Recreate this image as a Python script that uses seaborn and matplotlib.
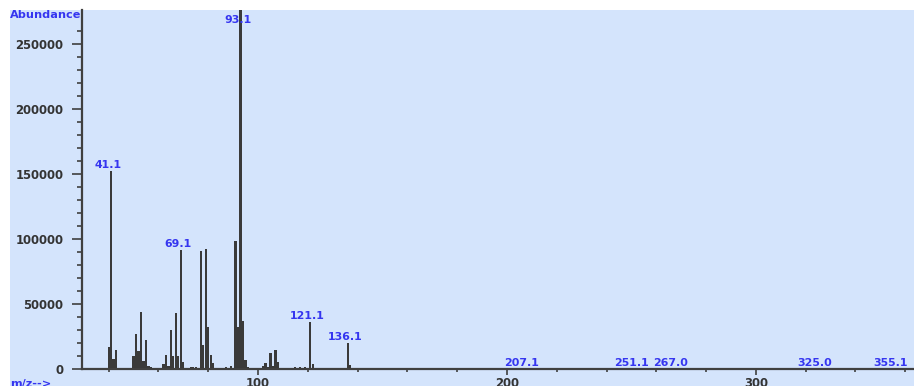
import matplotlib
matplotlib.use("Agg")
import matplotlib.pyplot as plt
from matplotlib.patches import Rectangle
from matplotlib.ticker import FixedLocator
import seaborn as sns
import pandas as pd

# ---- data ----
mz = [40, 41, 42, 43, 44, 45,
      50, 51, 52, 53, 54, 55, 56, 57, 58, 59, 61,
      62, 63, 64, 65, 66, 67, 68, 69, 70, 73, 74, 75,
      77, 78, 79, 80, 81, 82, 87, 89,
      91, 92, 93, 94, 95, 96,
      102, 103, 104, 105, 106, 107, 108,
      115, 117, 119, 121, 122, 136, 137,
      207, 251, 267, 325, 355]
abundance = [17000, 152500, 7700, 14400, 1000, 800,
             10000, 26900, 13800, 43800, 6400, 22600, 2300, 1200, 900, 700, 800,
             3600, 10500, 2300, 29700, 10000, 43000, 10000, 91500, 5600, 1200, 1500, 1500,
             90500, 18500, 92000, 32500, 10500, 4800, 1500, 2500,
             98400, 32000, 276000, 37200, 6900, 1200,
             2000, 4400, 1500, 12000, 2300, 14600, 5600,
             1500, 1500, 1200, 36400, 3600, 20200, 2800,
             200, 200, 200, 200, 200]

label_mz = [41.1, 69.1, 93.1, 121.1, 136.1, 207.1, 251.1, 267.0, 325.0, 355.1]
label_text = ["41.1", "69.1", "93.1", "121.1", "136.1", "207.1", "251.1", "267.0", "325.0", "355.1"]
label_peak = [152500, 91500, 276000, 36400, 20200, 200, 200, 200, 200, 200]

y_major = [0, 50000, 100000, 150000, 200000, 250000]
y_major_labels = ["0", "50000", "100000", "150000", "200000", "250000"]
x_major = [100, 200, 300]
x_major_labels = ["100", "200", "300"]

BG = "#d4e4fc"
BAR = "#3a3a3a"
BLUE = "#3535f0"
TICK = "#333333"

W, H = 914, 388
fig = plt.figure(figsize=(W / 100, H / 100), dpi=100)
fig.patch.set_facecolor("white")
bg = Rectangle((10 / W, (H - 386) / H), (W - 10) / W, 376 / H,
               transform=fig.transFigure, facecolor=BG, edgecolor="none", zorder=-5)
fig.patches.append(bg)

ax = fig.add_axes([82 / W, (H - 369) / H, (W - 82) / W, 359 / H])
ax.set_zorder(2)
ax.set_facecolor("none")

df = pd.DataFrame({"mz": mz, "abundance": abundance})
sns.barplot(data=df, x="mz", y="abundance", native_scale=True, color=BAR,
            saturation=1, width=0.9, errorbar=None, linewidth=0, ax=ax)

YTOP = 276000
ax.set_xlim(29.3, 363.5)
ax.set_ylim(0, YTOP)
ax.set_xlabel("")
ax.set_ylabel("")

for s in ["top", "right"]:
    ax.spines[s].set_visible(False)
for s in ["left", "bottom"]:
    ax.spines[s].set_color("#404040")
    ax.spines[s].set_linewidth(1.6)

ax.yaxis.set_major_locator(FixedLocator(y_major))
ax.set_yticklabels(y_major_labels)
ax.yaxis.set_minor_locator(FixedLocator(list(range(0, 270000, 10000))))
ax.xaxis.set_major_locator(FixedLocator(x_major))
ax.set_xticklabels(x_major_labels)
ax.xaxis.set_minor_locator(FixedLocator(list(range(40, 364, 20))))

ax.tick_params(axis="y", which="major", length=7.2, width=1.2, color="#404040", pad=6.3,
               labelsize=8.4, labelcolor=TICK)
ax.tick_params(axis="y", which="minor", length=3.6, width=1.2, color="#404040")
ax.tick_params(axis="x", which="major", length=4.5, width=1.2, color="#404040", pad=1.5,
               labelsize=8.4, labelcolor=TICK)
ax.tick_params(axis="x", which="minor", length=2.2, width=1.2, color="#404040")
for lab in ax.get_yticklabels() + ax.get_xticklabels():
    lab.set_fontweight("bold")
    lab.set_clip_path(bg)

for x, t, p in zip(label_mz, label_text, label_peak):
    y = min(p, YTOP - 12500)
    ax.annotate(t, xy=(x, y), xytext=(-3, 1), textcoords="offset pixels",
                ha="center", va="bottom", color=BLUE, fontsize=7.9,
                fontweight="bold", annotation_clip=False)

fig.text(10 / W, (H - 15.5) / H, "Abundance", color=BLUE, fontsize=8.1,
         fontweight="bold", ha="left", va="center", zorder=3)
t = fig.text(10 / W, (H - 384) / H, "m/z-->", color=BLUE, fontsize=8.1,
             fontweight="bold", ha="left", va="center", zorder=3)
t.set_clip_path(bg)

fig.savefig("out.png", dpi=100, facecolor="white")
